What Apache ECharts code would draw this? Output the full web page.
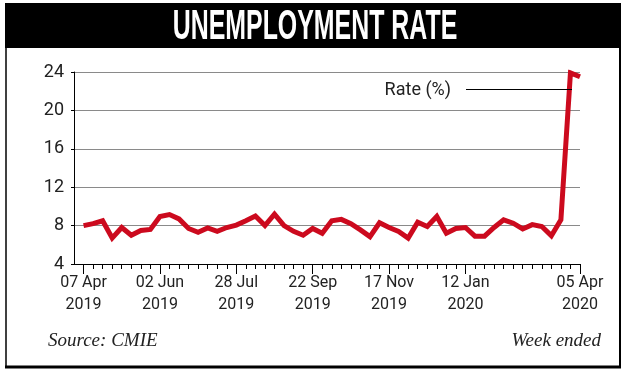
<!DOCTYPE html>
<html>
<head>
<meta charset="utf-8">
<script src="https://cdn.jsdelivr.net/npm/echarts@6/dist/echarts.min.js"></script>
<style>
  html, body { margin: 0; padding: 0; background: #fff; }
  #chart { width: 624px; height: 373px; }
</style>
</head>
<body>
<div id="chart"></div>
<script>
// Week-ended dates (first entry is an empty lead-in slot before the data starts)
const categories = [
  '31 Mar 2019',
  '07 Apr 2019', '14 Apr 2019', '21 Apr 2019', '28 Apr 2019',
  '05 May 2019', '12 May 2019', '19 May 2019', '26 May 2019',
  '02 Jun 2019', '09 Jun 2019', '16 Jun 2019', '23 Jun 2019', '30 Jun 2019',
  '07 Jul 2019', '14 Jul 2019', '21 Jul 2019', '28 Jul 2019',
  '04 Aug 2019', '11 Aug 2019', '18 Aug 2019', '25 Aug 2019',
  '01 Sep 2019', '08 Sep 2019', '15 Sep 2019', '22 Sep 2019', '29 Sep 2019',
  '06 Oct 2019', '13 Oct 2019', '20 Oct 2019', '27 Oct 2019',
  '03 Nov 2019', '10 Nov 2019', '17 Nov 2019', '24 Nov 2019',
  '01 Dec 2019', '08 Dec 2019', '15 Dec 2019', '22 Dec 2019', '29 Dec 2019',
  '05 Jan 2020', '12 Jan 2020', '19 Jan 2020', '26 Jan 2020',
  '02 Feb 2020', '09 Feb 2020', '16 Feb 2020', '23 Feb 2020',
  '01 Mar 2020', '08 Mar 2020', '15 Mar 2020', '22 Mar 2020', '29 Mar 2020',
  '05 Apr 2020'
];

// Unemployment rate (%) per week
const rateValues = [
  null,
  8.0, 8.2, 8.5, 6.7, 7.8, 7.0, 7.5, 7.6,
  8.95, 9.15, 8.7, 7.7, 7.3, 7.75, 7.4, 7.8, 8.05,
  8.5, 9.0, 8.0, 9.2, 8.0, 7.4, 7.0, 7.7,
  7.2, 8.5, 8.65, 8.2, 7.55, 6.85, 8.3, 7.8,
  7.4, 6.7, 8.35, 7.9, 8.95, 7.2, 7.7, 7.8,
  6.9, 6.9, 7.8, 8.6, 8.25, 7.65, 8.1, 7.9,
  6.95, 8.6, 23.9, 23.5
];

// Weeks that carry an axis label / major tick
const labeledWeeks = [
  '07 Apr 2019', '02 Jun 2019', '28 Jul 2019', '22 Sep 2019',
  '17 Nov 2019', '12 Jan 2020', '05 Apr 2020'
];

// Y axis range
const yMin = 4, yMax = 24, yStep = 4;

const titleText = 'UNEMPLOYMENT RATE';
const seriesName = 'Rate (%)';
const sourceText = 'Source: CMIE';
const noteText = 'Week ended';

const chart = echarts.init(document.getElementById('chart'), null, { renderer: 'canvas' });

const isLabeled = (idx) => labeledWeeks.indexOf(categories[idx]) >= 0;
const RED = '#cc0a1e';
const FONT = 'Roboto, "Liberation Sans", sans-serif';

chart.setOption({
  backgroundColor: '#fff',
  animation: false,
  grid: { left: 74, right: 44, top: 72, bottom: 109 },
  xAxis: [
    {
      type: 'category',
      position: 'bottom',
      data: categories,
      boundaryGap: false,
      axisLine: { show: true, lineStyle: { color: '#000', width: 1 } },
      axisTick: {
        show: true, length: 5, inside: false,
        interval: (i) => i > 0,
        lineStyle: { color: '#000', width: 1 }
      },
      axisLabel: { show: false },
      splitLine: { show: false }
    },
    {
      type: 'category',
      position: 'bottom',
      data: categories,
      boundaryGap: false,
      axisLine: { show: false },
      axisTick: {
        show: true, length: 10,
        interval: (i) => isLabeled(i),
        lineStyle: { color: '#000', width: 1 }
      },
      axisLabel: {
        show: true,
        interval: (i) => isLabeled(i),
        formatter: (v) => v.replace(/ (\d{4})$/, '\n$1'),
        color: '#222',
        fontFamily: FONT,
        fontSize: 16,
        lineHeight: 22,
        margin: 8
      },
      splitLine: { show: false }
    }
  ],
  yAxis: {
    type: 'value',
    min: yMin, max: yMax, interval: yStep,
    axisLine: { show: true, lineStyle: { color: '#000', width: 1 } },
    axisTick: { show: true, length: 3, lineStyle: { color: '#000' } },
    axisLabel: { color: '#222', fontFamily: FONT, fontSize: 18, margin: 10 },
    splitLine: { show: true, lineStyle: { color: '#8a8a8a', width: 1 } }
  },
  series: [
    {
      name: seriesName,
      type: 'line',
      xAxisIndex: 0,
      data: rateValues,
      showSymbol: false,
      symbol: 'none',
      connectNulls: false,
      lineStyle: { color: RED, width: 5, join: 'miter' },
      z: 5
    }
  ],
  graphic: [
    // outer frame
    { type: 'line', shape: { x1: 6, y1: 3, x2: 6, y2: 367 }, style: { stroke: '#000', lineWidth: 1.5 } },
    { type: 'line', shape: { x1: 620, y1: 3, x2: 620, y2: 368 }, style: { stroke: '#000', lineWidth: 2 } },
    { type: 'line', shape: { x1: 5, y1: 367, x2: 621, y2: 367 }, style: { stroke: '#000', lineWidth: 3 } },
    // title band
    { type: 'rect', shape: { x: 5, y: 3, width: 616, height: 45 }, style: { fill: '#000' } },
    {
      type: 'text', x: 315, y: 27, scaleX: 0.593, scaleY: 1,
      style: {
        text: titleText, fill: '#fff', align: 'center', verticalAlign: 'middle',
        font: 'bold 42px "Liberation Sans", Arial, sans-serif'
      }
    },
    // series label with leader line
    {
      type: 'text', x: 451, y: 90,
      style: {
        text: seriesName, fill: '#222', align: 'right', verticalAlign: 'middle',
        font: '18px ' + FONT
      }
    },
    { type: 'line', shape: { x1: 466, y1: 89.5, x2: 572, y2: 89.5 }, style: { stroke: '#000', lineWidth: 1 }, z: 10 },
    // footer
    {
      type: 'text', x: 48, y: 341,
      style: {
        text: sourceText, fill: '#222', align: 'left', verticalAlign: 'middle',
        font: 'italic 19px "Liberation Serif", serif'
      }
    },
    {
      type: 'text', x: 601, y: 341,
      style: {
        text: noteText, fill: '#222', align: 'right', verticalAlign: 'middle',
        font: 'italic 19px "Liberation Serif", serif'
      }
    }
  ]
});
</script>
</body>
</html>
